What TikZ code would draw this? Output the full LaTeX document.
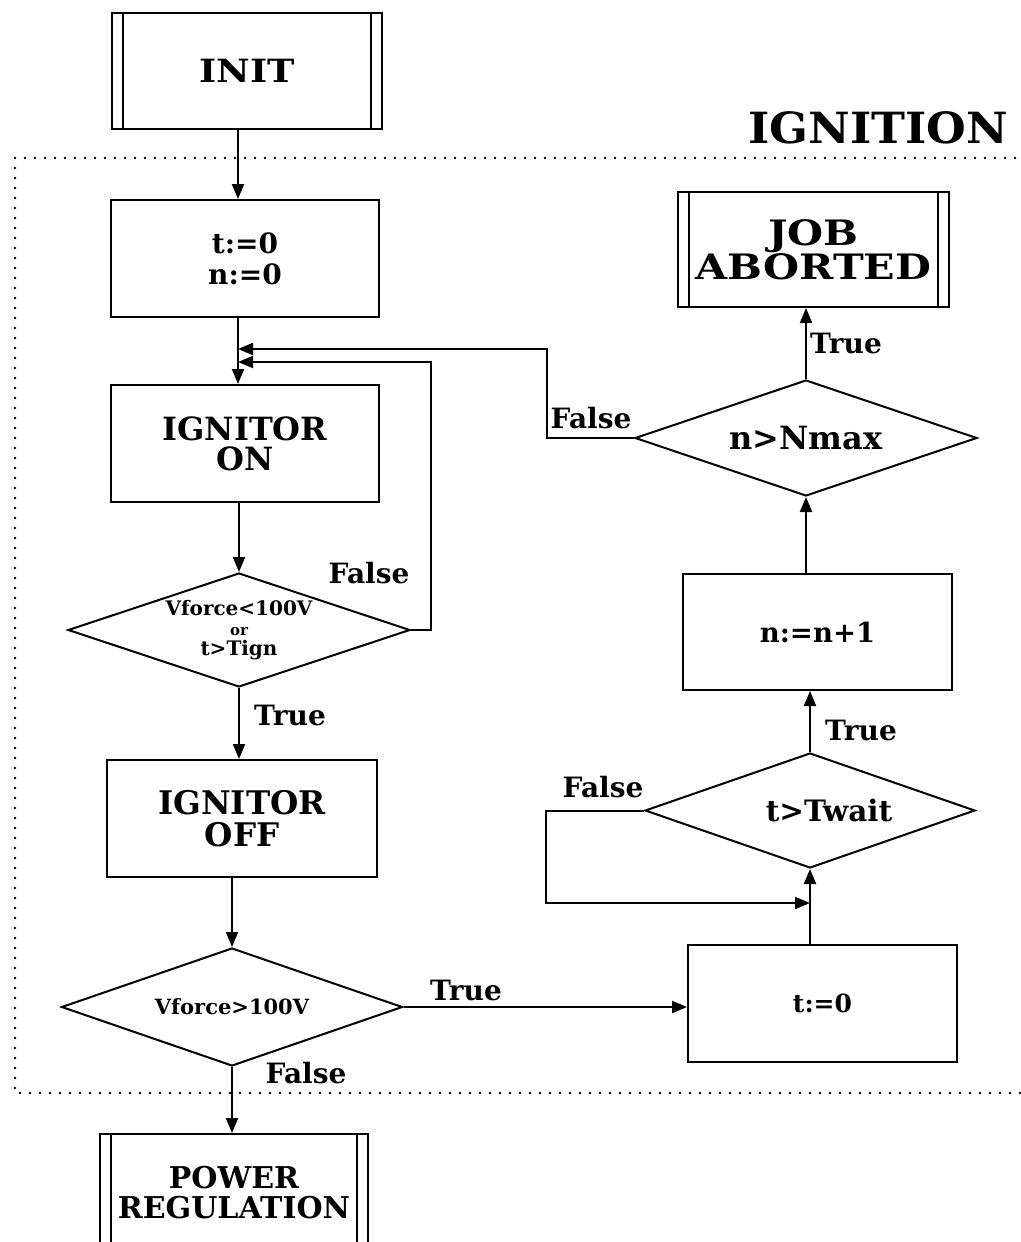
\documentclass[tikz,border=0pt]{standalone}
\usepackage{graphicx}
\usepackage{fontspec}
\setmainfont{DejaVu Serif}
\usetikzlibrary{arrows.meta,shapes.geometric,calc}
\newcommand\fsz[2]{\fontsize{#1}{#2}\selectfont\bfseries}
\newcommand\wide[2]{\scalebox{#1}[1]{#2}}

\begin{document}
\begin{tikzpicture}[x=1pt,y=-1pt,
  proc/.style={draw, line width=2pt, inner sep=0pt, align=center},
  subproc/.style={proc, path picture={
      \draw[line width=2pt] ([xshift=11pt]path picture bounding box.north west) -- ([xshift=11pt]path picture bounding box.south west);
      \draw[line width=2pt] ([xshift=-11pt]path picture bounding box.north east) -- ([xshift=-11pt]path picture bounding box.south east);}},
  decision/.style={draw, diamond, line width=2pt, inner sep=0pt, shape aspect=3, align=center},
  flow/.style={line width=2pt, -{Triangle[length=15pt,width=12pt]}},
  lab/.style={font=\fsz{28}{28}, inner sep=0pt},
  frame/.style={line width=2.8pt, line cap=round, dash pattern=on 0pt off 10pt}
]
\useasboundingbox (0,0) rectangle (1020,1242);

% group boundary
\draw[frame] (15,158) rectangle (1040,1093);
\node[font=\fsz{43}{43}, inner sep=0pt] (title) at (878,128) {\wide{1.06}{IGNITION}};

% left column
\node[subproc, minimum width=270pt, minimum height=116pt, font=\fsz{32}{32}] (init) at (247,71) {\wide{1.15}{INIT}};
\node[proc, minimum width=268pt, minimum height=117pt, font=\fsz{28}{31}] (clr) at (245,258.5) {t:=0\\n:=0};
\node[proc, minimum width=268pt, minimum height=117pt, font=\fsz{32}{30}] (ignon) at (245,443.5) {IGNITOR\\ON};
\node[decision, minimum width=342pt, minimum height=114pt, font=\fsz{20}{20}] (chk1) at (239,630) {Vforce<100V\\{\fsz{15}{20}or}\\t>Tign};
\node[proc, minimum width=270pt, minimum height=117pt, font=\fsz{32.5}{32}] (ignoff) at (242,818.5) {IGNITOR\\OFF};
\node[decision, minimum width=341pt, minimum height=118pt, font=\fsz{21}{21}] (chk2) at (232,1007) {Vforce>100V};
\node[subproc, minimum width=268pt, minimum height=117pt, font=\fsz{30}{30}, anchor=north] (power) at (234,1133) {POWER\\REGULATION};

% right column
\node[subproc, minimum width=271pt, minimum height=115pt, font=\fsz{35}{29}] (abort) at (813.5,249.5) {\wide{1.18}{JOB}\\\wide{1.18}{ABORTED}};
\node[decision, minimum width=342pt, minimum height=116pt, font=\fsz{32}{32}] (chk3) at (806,438) {n>Nmax};
\node[proc, minimum width=269pt, minimum height=116pt, font=\fsz{27.5}{27.5}] (inc) at (817.5,632) {n:=n+1};
\node[decision, minimum width=330pt, minimum height=115pt, font=\fsz{29.5}{29.5}] (chk4) at (810,810.5) {\hspace*{38pt}t>Twait};
\node[proc, minimum width=269pt, minimum height=117pt, font=\fsz{25}{25}] (clr2) at (822.5,1003.5) {t:=0};

% junction points
\coordinate (lx) at (238,0);
\coordinate (m1) at (238,349);
\coordinate (m2) at (238,362);
\coordinate (m3) at (810,903);

% main flow
\draw[flow] (init.south -| lx) -- (clr.north -| lx);
\draw[flow] (clr.south -| lx) -- (ignon.north -| lx);
\draw[flow] (ignon.south -| chk1.north) -- (chk1.north);
\draw[flow] (chk1.south) -- (ignoff.north -| chk1.south);
\draw[flow] (ignoff.south -| chk2.north) -- (chk2.north);
\draw[flow] (chk2.south) -- (power.north -| chk2.south);
\draw[flow] (chk2.east) -- (clr2.west |- chk2.east);
\draw[flow] (chk1.east) -- ++(20,0) |- (m2);
\draw[flow] (clr2.north -| chk4.south) -- (chk4.south);
\draw[flow] (chk4.west) -- ++(-98,0) |- (m3);
\draw[flow] (chk4.north) -- (inc.south -| chk4.north);
\draw[flow] (inc.north -| chk3.south) -- (chk3.south);
\draw[flow] (chk3.north) -- (abort.south -| chk3.north);
\draw[flow] (chk3.west) -- ++(-87,0) |- (m1);

% branch labels
\node[lab] (f1) at (369,573) {False};
\node[lab] (t1) at (290,715) {True};
\node[lab] (t2) at (466,990) {True};
\node[lab] (f2) at (306,1073) {False};
\node[lab] (f3) at (591,418) {False};
\node[lab] (t3) at (846,343) {True};
\node[lab] (t4) at (861,730) {True};
\node[lab] (f4) at (603,787) {False};
\end{tikzpicture}
\end{document}
